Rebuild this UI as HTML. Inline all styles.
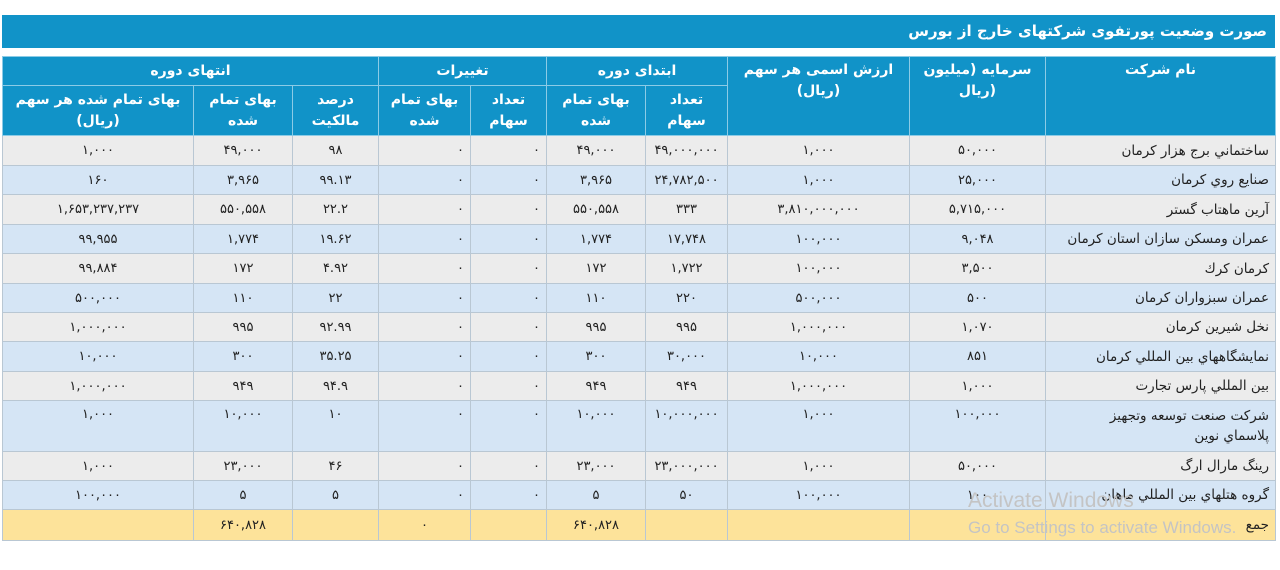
<!DOCTYPE html>
<html><head><meta charset="utf-8"><style>
body{margin:0;width:1280px;height:570px;background:#fff;position:relative;overflow:hidden;font-family:"DejaVu Sans","Liberation Sans",sans-serif;}
.title{position:absolute;left:2px;top:15px;width:1273px;height:33px;background:#1193c8;color:#fff;direction:rtl;font-size:15px;font-weight:bold;line-height:33px;}
.title span{margin-right:8px}
table{position:absolute;left:2px;top:56px;border-collapse:collapse;table-layout:fixed;font-size:13px;}
td{border:1px solid #b9c7d3;padding:0;text-align:center;color:#222;overflow:hidden;white-space:nowrap;}
thead td{background:#1193c8;color:#fff;font-weight:bold;border-color:#8ccbe6;font-size:14px;line-height:21px;white-space:normal}
tr.g td{background:#ececec}
tr.b td{background:#d5e5f5}
tr.y td{background:#fde39a}
td.n{text-align:right;padding-right:6px;direction:rtl;font-size:13.5px}
td.z{text-align:right;padding-right:6px}
.aw{position:absolute;left:968px;top:489px;color:#c4c4c4;font-family:"Liberation Sans",sans-serif;}
</style></head><body>
<div class="title"><span>صورت وضعیت پورتفوی شرکتهای خارج از بورس</span></div>
<table>
<colgroup><col style="width:191px"><col style="width:99px"><col style="width:86px"><col style="width:92px"><col style="width:76px"><col style="width:99px"><col style="width:82px"><col style="width:182px"><col style="width:136px"><col style="width:230px"></colgroup>
<thead>
<tr style="height:29px"><td colspan="3">انتهای دوره</td><td colspan="2">تغییرات</td><td colspan="2">ابتدای دوره</td><td rowspan="2" style="vertical-align:top;padding-top:3px">ارزش اسمی هر سهم<br>(ریال)</td><td rowspan="2" style="vertical-align:top;padding-top:3px">سرمایه (میلیون<br>ریال)</td><td rowspan="2" style="vertical-align:top;padding-top:3px">نام شرکت</td></tr>
<tr style="height:50px"><td>بهای تمام شده هر سهم<br>(ریال)</td><td>بهای تمام<br>شده</td><td>درصد<br>مالکیت</td><td>بهای تمام<br>شده</td><td>تعداد<br>سهام</td><td>بهای تمام<br>شده</td><td>تعداد<br>سهام</td></tr>
</thead>
<tbody>
<tr class="g" style="height:30px"><td>۱,۰۰۰</td><td>۴۹,۰۰۰</td><td>۹۸</td><td class="z">۰</td><td class="z">۰</td><td>۴۹,۰۰۰</td><td>۴۹,۰۰۰,۰۰۰</td><td>۱,۰۰۰</td><td>۵۰,۰۰۰</td><td class="n">ساختماني برج هزار كرمان</td></tr>
<tr class="b" style="height:29px"><td>۱۶۰</td><td>۳,۹۶۵</td><td>۹۹.۱۳</td><td class="z">۰</td><td class="z">۰</td><td>۳,۹۶۵</td><td>۲۴,۷۸۲,۵۰۰</td><td>۱,۰۰۰</td><td>۲۵,۰۰۰</td><td class="n">صنايع روي كرمان</td></tr>
<tr class="g" style="height:30px"><td>۱,۶۵۳,۲۳۷,۲۳۷</td><td>۵۵۰,۵۵۸</td><td>۲۲.۲</td><td class="z">۰</td><td class="z">۰</td><td>۵۵۰,۵۵۸</td><td>۳۳۳</td><td>۳,۸۱۰,۰۰۰,۰۰۰</td><td>۵,۷۱۵,۰۰۰</td><td class="n">آرين ماهتاب گستر</td></tr>
<tr class="b" style="height:29px"><td>۹۹,۹۵۵</td><td>۱,۷۷۴</td><td>۱۹.۶۲</td><td class="z">۰</td><td class="z">۰</td><td>۱,۷۷۴</td><td>۱۷,۷۴۸</td><td>۱۰۰,۰۰۰</td><td>۹,۰۴۸</td><td class="n">عمران ومسكن سازان استان كرمان</td></tr>
<tr class="g" style="height:30px"><td>۹۹,۸۸۴</td><td>۱۷۲</td><td>۴.۹۲</td><td class="z">۰</td><td class="z">۰</td><td>۱۷۲</td><td>۱,۷۲۲</td><td>۱۰۰,۰۰۰</td><td>۳,۵۰۰</td><td class="n">كرمان كرك</td></tr>
<tr class="b" style="height:29px"><td>۵۰۰,۰۰۰</td><td>۱۱۰</td><td>۲۲</td><td class="z">۰</td><td class="z">۰</td><td>۱۱۰</td><td>۲۲۰</td><td>۵۰۰,۰۰۰</td><td>۵۰۰</td><td class="n">عمران سبزواران كرمان</td></tr>
<tr class="g" style="height:29px"><td>۱,۰۰۰,۰۰۰</td><td>۹۹۵</td><td>۹۲.۹۹</td><td class="z">۰</td><td class="z">۰</td><td>۹۹۵</td><td>۹۹۵</td><td>۱,۰۰۰,۰۰۰</td><td>۱,۰۷۰</td><td class="n">نخل شيرين كرمان</td></tr>
<tr class="b" style="height:30px"><td>۱۰,۰۰۰</td><td>۳۰۰</td><td>۳۵.۲۵</td><td class="z">۰</td><td class="z">۰</td><td>۳۰۰</td><td>۳۰,۰۰۰</td><td>۱۰,۰۰۰</td><td>۸۵۱</td><td class="n">نمايشگاههاي بين المللي كرمان</td></tr>
<tr class="g" style="height:29px"><td>۱,۰۰۰,۰۰۰</td><td>۹۴۹</td><td>۹۴.۹</td><td class="z">۰</td><td class="z">۰</td><td>۹۴۹</td><td>۹۴۹</td><td>۱,۰۰۰,۰۰۰</td><td>۱,۰۰۰</td><td class="n">بين المللي پارس تجارت</td></tr>
<tr class="b" style="height:51px;vertical-align:top"><td style="padding-top:6px">۱,۰۰۰</td><td style="padding-top:6px">۱۰,۰۰۰</td><td style="padding-top:6px">۱۰</td><td class="z" style="padding-top:6px">۰</td><td class="z" style="padding-top:6px">۰</td><td style="padding-top:6px">۱۰,۰۰۰</td><td style="padding-top:6px">۱۰,۰۰۰,۰۰۰</td><td style="padding-top:6px">۱,۰۰۰</td><td style="padding-top:6px">۱۰۰,۰۰۰</td><td class="n" style="white-space:normal;padding-top:5px;line-height:20px">شركت صنعت توسعه وتجهيز<br>پلاسماي نوين</td></tr>
<tr class="g" style="height:29px"><td>۱,۰۰۰</td><td>۲۳,۰۰۰</td><td>۴۶</td><td class="z">۰</td><td class="z">۰</td><td>۲۳,۰۰۰</td><td>۲۳,۰۰۰,۰۰۰</td><td>۱,۰۰۰</td><td>۵۰,۰۰۰</td><td class="n">رينگ مارال ارگ</td></tr>
<tr class="b" style="height:29px"><td>۱۰۰,۰۰۰</td><td>۵</td><td>۵</td><td class="z">۰</td><td class="z">۰</td><td>۵</td><td>۵۰</td><td>۱۰۰,۰۰۰</td><td>۱۰۰</td><td class="n">گروه هتلهاي بين المللي ماهان</td></tr>
<tr class="y" style="height:31px"><td></td><td>۶۴۰,۸۲۸</td><td></td><td>۰</td><td></td><td>۶۴۰,۸۲۸</td><td></td><td></td><td></td><td class="n">جمع</td></tr>
</tbody></table>
<div class="aw"><div style="font-size:21px">Activate Windows</div><div style="font-size:17px;margin-top:5px">Go to Settings to activate Windows.</div></div>
</body></html>
